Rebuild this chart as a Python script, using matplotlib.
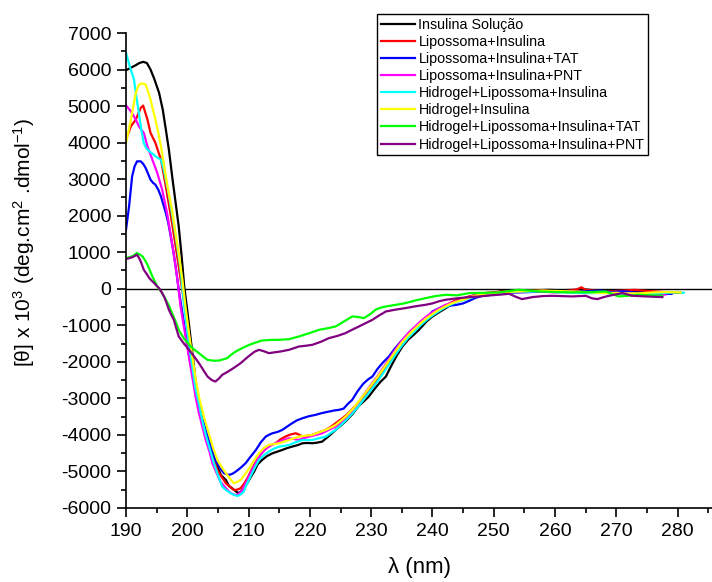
import matplotlib
matplotlib.use("Agg")
import matplotlib.pyplot as plt
from matplotlib.ticker import MultipleLocator

plt.rcParams['font.family'] = ['Liberation Sans', 'DejaVu Sans']
plt.rcParams['mathtext.default'] = 'regular'
plt.rcParams['axes.unicode_minus'] = False

# wavelength (nm) / ellipticity pairs
wl_black = [190, 190.8, 191.6, 192.2, 192.8, 193.4, 194, 194.6, 195.4, 196, 196.5, 197, 197.6, 198.1,
            198.6, 199.1, 199.5, 200, 200.5, 201, 201.4, 201.9, 202.4, 203, 203.5, 203.8, 204.3, 204.9,
            205.5, 206.3, 206.8, 207.3, 207.9, 208.4, 208.9, 209.5, 210.2, 210.9, 211.5, 212.2, 213,
            213.9, 215, 215.5, 216.3, 217.1, 218, 218.8, 219.6, 220.4, 221.2, 222, 222.6, 223.3, 224.2,
            225, 226, 227, 228, 229, 229.6, 230.5, 231.5, 232.4, 233.3, 234.2, 235.1, 236, 237, 237.8,
            239, 240, 241.1, 242.2, 243, 244, 245, 246, 247, 248, 250, 251.5, 253, 255, 257, 259, 261,
            263, 265, 267, 269, 271, 273, 275, 277, 279, 280.5]
v_black = [5980, 6050, 6120, 6180, 6210, 6180, 6000, 5750, 5360, 4900, 4356, 3800, 2986, 2350,
           1707, 850, 63, -600, -1300, -2000, -2584, -3041, -3680, -4000, -4137, -4400, -4650, -4868,
           -5100, -5233, -5400, -5460, -5540, -5598, -5520, -5400, -5200, -5005, -4800, -4685, -4580,
           -4502, -4440, -4411, -4360, -4320, -4280, -4228, -4220, -4228, -4210, -4183, -4100, -4000, -3863,
           -3750, -3600, -3420, -3200, -3050, -2950, -2750, -2550, -2402, -2100, -1820, -1580, -1400, -1250, -1123,
           -900, -758, -640, -529, -430, -348, -280, -220, -180, -150, -110, -60, -50, -60, -40, -30, -40,
           -30, -20, -50, -60, -80, -70, -90, -100, -110, -110]

wl_red = [190, 190.8, 191.6, 192.4, 192.8, 193.5, 194, 194.8, 195.7, 196.5, 197.6, 198.6, 199.5, 200.3,
          201, 201.9, 202.7, 203.5, 204.2, 204.9, 205.6, 206.3, 207, 207.6, 208.1, 208.7, 209.2, 209.8,
          210.5, 211.2, 212, 212.8, 213.6, 214.4, 215.2, 216, 216.8, 217.7, 218.2, 218.8, 219.6, 220.4,
          221.5, 222.6, 223.4, 224.2, 225, 226, 227, 228, 229, 230, 231, 232, 233, 234, 235, 236, 237,
          238, 239, 240, 241, 242, 243, 244, 245, 246, 247, 248, 249.5, 251, 252.5, 254, 256, 258, 260,
          262, 263.5, 264.3, 265, 267, 269, 271, 273, 275, 277, 279]
v_red = [4082, 4447, 4630, 4950, 5014, 4630, 4265, 3992, 3534, 2803, 1707, 611, -392, -1300,
         -2200, -3224, -3800, -4228, -4600, -4959, -5150, -5324, -5420, -5507, -5500, -5460, -5350, -5187,
         -4950, -4731, -4520, -4365, -4280, -4228, -4120, -4046, -3990, -3954, -3990, -4046, -4020, -4000,
         -3930, -3863, -3780, -3680, -3580, -3450, -3280, -3100, -2900, -2700, -2480, -2250, -2000, -1750, -1500, -1300, -1120,
         -960, -820, -700, -580, -470, -380, -300, -260, -210, -170, -130, -100, -80, -70, -80, -60, -50, -70,
         -60, -20, 40, -30, -60, -70, -50, -30, -60, -80, -100]

wl_blue = [190, 190.5, 191, 191.4, 191.8, 192.4, 192.8, 193.2, 193.6, 194, 194.4, 194.8, 195.3, 195.7,
           196.1, 196.5, 196.9, 197.3, 197.7, 198.1, 198.6, 199.2, 199.8, 200.4, 201, 201.4, 202.2, 203,
           203.8, 204.6, 205.3, 206, 206.8, 207.4, 207.9, 208.7, 209.5, 210.3, 211.2, 212, 212.8, 213.4,
           213.9, 214.7, 215.5, 216.3, 217.1, 217.9, 218.8, 219.8, 220.9, 222, 223.1, 224, 224.7, 225.5,
           226.2, 226.9, 227.8, 228.7, 229.5, 230.2, 231, 231.9, 232.9, 233.8, 234.7, 235.6, 236.7, 237.8,
           238.9, 240, 241.1, 242.2, 243, 244, 245, 246, 247, 248, 249, 250.5, 252, 254, 256, 258, 260,
           262, 264, 266, 267.5, 269, 271, 273, 275, 277, 279]
v_blue = [1616, 2255, 3077, 3350, 3488, 3488, 3420, 3307, 3150, 2986, 2900, 2849, 2700, 2529,
          2300, 2074, 1800, 1433, 1050, 611, -27, -666, -1300, -1950, -2450, -2858, -3400, -3863,
          -4300, -4685, -4900, -5050, -5096, -5060, -5005, -4900, -4776, -4600, -4411, -4200, -4046, -3990,
          -3954, -3920, -3863, -3770, -3680, -3600, -3543, -3490, -3452, -3400, -3361, -3330, -3315, -3280,
          -3150, -3041, -2800, -2600, -2480, -2402, -2200, -2020, -1854, -1650, -1470, -1306, -1150, -1032,
          -820, -621, -530, -485, -460, -438, -400, -330, -250, -200, -180, -140, -110, -100, -90, -70, -60,
          -70, -80, -60, -50, -90, -70, -100, -120, -130, -140]

wl_magenta = [190, 190.8, 191.6, 192.1, 192.9, 193.5, 194.3, 195.1, 195.9, 196.7, 197.6, 198.4, 198.9,
              199.5, 200.2, 200.9, 201.4, 201.9, 202.5, 203, 203.6, 204.1, 204.8, 205.4, 206.1, 206.8,
              207.4, 207.9, 208.5, 209, 209.6, 210.3, 211, 211.7, 212.5, 213.3, 214.1, 215, 215.8, 216.6,
              217.4, 218.2, 219, 219.9, 221, 222, 223.1, 224.2, 225, 226, 227, 228, 229, 230, 231, 232,
              233, 234, 235, 236, 237, 238, 239, 240, 241, 242, 243, 244, 245, 246, 247, 248, 250, 252,
              254, 256, 258, 260, 262, 264, 266, 268, 270, 272, 274, 276, 278]
v_magenta = [5014, 4858, 4630, 4447, 4265, 3899, 3534, 3170, 2712, 2074, 1159, 247, -485,
             -1100, -1800, -2500, -3000, -3406, -3800, -4137, -4450, -4776, -5050, -5279, -5420, -5553,
             -5620, -5644, -5600, -5507, -5300, -5050, -4820, -4594, -4430, -4320, -4250, -4183, -4130, -4091,
             -4110, -4137, -4090, -4046, -4000, -3954, -3860, -3772, -3680, -3520, -3320, -3100, -2850, -2620, -2400, -2150,
             -1900, -1650, -1420, -1220, -1060, -900, -760, -640, -540, -450, -390, -340, -290, -230, -180, -140, -120, -80,
             -90, -70, -80, -100, -80, -90, -110, -100, -130, -120, -150, -140, -160]

wl_cyan = [190, 190.6, 191.3, 191.7, 192.1, 192.5, 192.9, 193.3, 193.8, 194.3, 194.8, 195.2, 195.7, 196.1,
           196.5, 196.9, 197.3, 197.7, 198.1, 198.5, 198.9, 199.5, 200.1, 200.7, 201.3, 201.9, 202.5, 203.1,
           203.7, 204.3, 205, 205.7, 206.4, 207.1, 207.6, 208.2, 208.7, 209.2, 209.7, 210.3, 211, 211.7,
           212.5, 213.3, 214.1, 215, 215.8, 216.6, 217.7, 218.8, 219.6, 220.4, 221.5, 222.6, 223.4, 224.2,
           225, 226, 227, 228, 229, 230, 231, 232, 233, 234, 235, 236, 237, 238, 239, 240, 241, 242, 243,
           244, 245, 246, 247, 248, 250, 252, 254, 256, 258, 260, 262, 264, 266, 268, 270, 272, 274, 276,
           278, 280, 281]
v_cyan = [6457, 6100, 5726, 5250, 4813, 4350, 3992, 3850, 3762, 3700, 3625, 3580, 3534, 3300,
          2986, 2650, 2255, 1850, 1433, 980, 520, -485, -1300, -2000, -2700, -3150, -3650, -4050,
          -4400, -4750, -5100, -5416, -5520, -5598, -5640, -5671, -5630, -5553, -5350, -5142, -4900, -4685,
          -4550, -4457, -4380, -4320, -4300, -4274, -4200, -4137, -4140, -4137, -4090, -4046, -3950, -3863,
          -3740, -3580, -3400, -3200, -2980, -2760, -2540, -2300, -2050, -1800, -1560, -1350, -1180, -1010, -860, -730, -621, -520, -430,
          -360, -310, -260, -210, -170, -140, -100, -70, -80, -60, -90, -100, -110, -120, -110, -140, -130, -150, -140,
          -110, -100, -110]

wl_yellow = [190, 190.4, 190.8, 191.2, 191.6, 192, 192.4, 192.8, 193.2, 193.6, 194, 194.4, 194.8, 195.3,
             195.7, 196.1, 196.5, 197, 197.6, 198.1, 198.6, 199.2, 199.7, 200.3, 200.9, 201.4, 201.9, 202.7,
             203.5, 204.2, 204.9, 205.6, 206.3, 207, 207.6, 208.1, 208.7, 209.4, 210.1, 210.9, 211.7, 212.5,
             213.3, 214.1, 215, 215.8, 216.6, 217.4, 218.2, 219.3, 220.4, 221.5, 222.6, 223.4, 224.2, 225,
             226, 227, 228, 229, 230, 231, 232, 233, 234, 235, 236, 237, 238, 239, 240, 241, 242, 243, 244,
             245, 246, 247, 248, 250, 252, 254, 256, 258, 260, 262, 264, 266, 268, 270, 272, 274, 276, 278, 280.5]
v_yellow = [3992, 4300, 4630, 5000, 5360, 5550, 5616, 5610, 5589, 5400, 5178, 4900, 4630, 4250,
            3899, 3500, 3077, 2600, 2074, 1500, 978, 250, -485, -1250, -1950, -2500, -2950, -3500,
            -3954, -4350, -4685, -4880, -5050, -5200, -5324, -5290, -5233, -5080, -4913, -4700, -4502, -4360,
            -4274, -4250, -4228, -4180, -4137, -4090, -4046, -4020, -4000, -3930, -3863, -3800, -3726, -3620,
            -3470, -3290, -3080, -2860, -2640, -2420, -2180, -1940, -1700, -1470, -1280, -1110, -950, -810, -690, -580, -490, -410, -350,
            -300, -240, -190, -150, -120, -90, -70, -60, -50, -60, -70, -80, -100, -120, -110, -130, -120, -100, -90, -100]

wl_green = [190, 191, 191.8, 192.3, 192.7, 193.1, 193.5, 193.9, 194.3, 194.7, 195.1, 195.5, 195.9, 196.5,
            197, 197.6, 198.1, 198.6, 199.4, 200.3, 201.1, 201.9, 202.6, 203.3, 204.3, 205.2, 205.9, 206.5,
            207.2, 207.9, 209, 210.1, 211.2, 212.2, 213.6, 215, 216.6, 218.2, 219.8, 221.5, 222.9, 224.2,
            225.5, 226.9, 227.8, 228.8, 229.8, 230.7, 231.5, 232.4, 234, 235.6, 237.2, 238.9, 240.5, 242.2,
            244, 246, 248.5, 250.8, 252.5, 254.1, 255.8, 257.4, 260, 262.8, 265.5, 268.3, 269.4, 270.4, 272,
            273.7, 275.6, 277.5]
v_green = [841, 885, 978, 930, 885, 780, 658, 500, 337, 200, 63, -30, -118, -300,
           -460, -700, -900, -1123, -1350, -1534, -1660, -1762, -1860, -1945, -1970, -1964, -1930, -1899,
           -1800, -1717, -1620, -1534, -1470, -1416, -1400, -1397, -1379, -1306, -1220, -1123, -1080, -1032,
           -900, -758, -770, -803, -700, -575, -520, -485, -440, -392, -320, -255, -200, -164,
           -180, -118, -110, -100, -60, -27, -50, -73, -90, -100, -90, -73, -150, -210, -190,
           -164, -180, -192]

wl_purple = [190, 191, 191.8, 192.1, 192.4, 192.9, 193.4, 193.8, 194.2, 194.6, 195, 195.4, 195.8, 196.2,
             196.6, 197, 197.4, 197.8, 198.2, 198.6, 199.4, 200.3, 201.1, 201.9, 202.6, 203.3, 204, 204.6,
             205.2, 205.7, 206.4, 207.1, 207.9, 208.7, 209.5, 210.3, 211, 211.7, 212.5, 213.3, 214.2, 215.2,
             216.6, 218.2, 219.3, 220.4, 221.8, 223.1, 224.5, 225.8, 226.9, 228, 229.1, 230.2, 231.3, 232.4,
             234, 235.6, 237.2, 238.9, 240, 241.1, 242.2, 244.3, 246, 247.6, 249, 250.8, 252.5, 253.6, 254.6,
             256.3, 258, 259.5, 261, 262.8, 265, 266, 266.9, 267.9, 268.8, 270, 271, 272.6, 274.8, 277.5]
v_purple = [813, 860, 931, 850, 748, 520, 400, 292, 220, 155, 80, 18, -90, -210,
            -380, -575, -720, -849, -1080, -1306, -1490, -1671, -1850, -2036, -2220, -2402, -2500, -2539,
            -2450, -2356, -2290, -2219, -2130, -2036, -1920, -1808, -1720, -1671, -1710, -1762, -1740, -1717,
            -1671, -1580, -1560, -1534, -1450, -1351, -1290, -1214, -1120, -1032, -940, -849, -730, -621,
            -570, -529, -480, -438, -400, -340, -300, -255, -230, -210, -185, -164, -137, -220, -283,
            -228, -200, -192, -200, -210, -192, -260, -283, -230, -192, -150, -118, -192, -210, -228]

series = [
    ("Insulina Solução", wl_black, v_black, "black"),
    ("Lipossoma+Insulina", wl_red, v_red, "#ff0000"),
    ("Lipossoma+Insulina+TAT", wl_blue, v_blue, "#0000ff"),
    ("Lipossoma+Insulina+PNT", wl_magenta, v_magenta, "#ff00ff"),
    ("Hidrogel+Lipossoma+Insulina", wl_cyan, v_cyan, "#00ffff"),
    ("Hidrogel+Insulina", wl_yellow, v_yellow, "#ffff00"),
    ("Hidrogel+Lipossoma+Insulina+TAT", wl_green, v_green, "#00ff00"),
    ("Hidrogel+Lipossoma+Insulina+PNT", wl_purple, v_purple, "#800080"),
]

fig = plt.figure(figsize=(7.12, 5.82), dpi=100)
ax = fig.add_axes([126 / 712, 74 / 582, 586 / 712, 475 / 582])

for name, wl, v, col in series:
    ax.plot(wl, v, color=col, lw=1.6, label=name)

ax.axhline(0, color="black", lw=1.0, zorder=0)

ax.set_xlim(190, 285.6)
ax.set_ylim(-6000, 7000)
ax.xaxis.set_major_locator(MultipleLocator(10))
ax.xaxis.set_minor_locator(MultipleLocator(5))
ax.yaxis.set_major_locator(MultipleLocator(1000))
ax.yaxis.set_minor_locator(MultipleLocator(500))
ax.set_xticks(range(190, 281, 10))
ax.tick_params(which="major", direction="out", length=6.2, width=1.2, labelsize=14, pad=4.5)
ax.tick_params(which="minor", direction="out", length=3.4, width=1.2)
ax.spines["top"].set_visible(False)
ax.spines["right"].set_visible(False)
ax.spines["left"].set_linewidth(1.2)
ax.spines["bottom"].set_linewidth(1.2)

ax.set_xlabel("λ (nm)", fontsize=16, labelpad=12)
ax.set_ylabel("[θ] x 10$^3$ (deg.cm$^2$ .dmol$^{-1}$)", fontsize=15)
ax.yaxis.set_label_coords(-0.152, 0.56)

leg = ax.legend(loc="upper left", bbox_to_anchor=(377 / 712, 1 - 14 / 582),
                bbox_transform=fig.transFigure, fontsize=10.3, frameon=True, fancybox=False,
                framealpha=1, edgecolor="black", borderpad=0.25, labelspacing=0.22,
                handlelength=2.4, handletextpad=0.25, borderaxespad=0)
leg.get_frame().set_linewidth(1.0)

fig.savefig("out.png", dpi=100)
